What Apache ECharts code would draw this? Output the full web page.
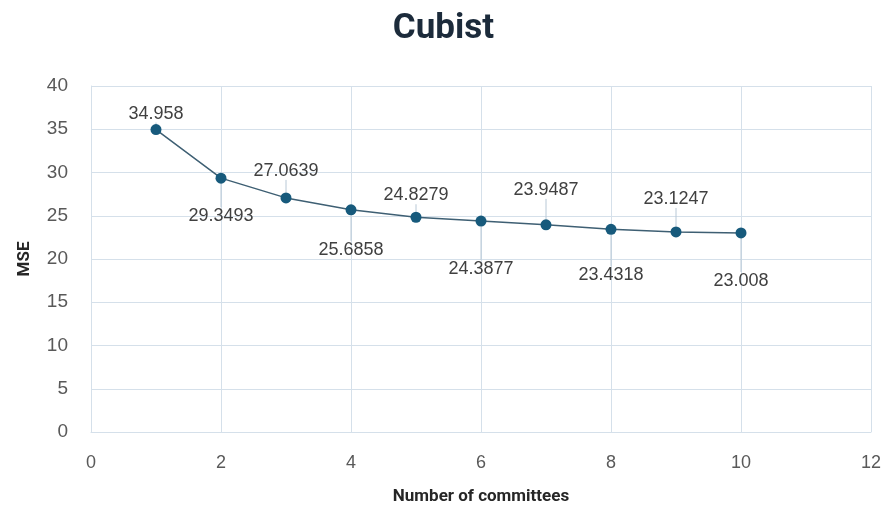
<!DOCTYPE html>
<html>
<head>
<meta charset="utf-8">
<script src="https://cdn.jsdelivr.net/npm/echarts@6/dist/echarts.min.js"></script>
<style>
  html, body { margin: 0; padding: 0; background: #fff; }
  #chart { width: 887px; height: 506px; }
</style>
</head>
<body>
<div id="chart"></div>
<script>
// Committee counts and the matching mean squared error
const committees = [1, 2, 3, 4, 5, 6, 7, 8, 9, 10];
const mse = [34.958, 29.3493, 27.0639, 25.6858, 24.8279, 24.3877, 23.9487, 23.4318, 23.1247, 23.008];
// Vertical shift of each value label (negative = above the point)
const labelShift = [-16, 38, -27, 40, -22, 48, -35, 46, -33, 48];

const chart = echarts.init(document.getElementById('chart'));
const sans = '"Liberation Sans", Arial, sans-serif';
const gridColor = '#d5e0ea';

chart.setOption({
  animation: false,
  title: {
    text: 'Cubist',
    left: 'center',
    top: 7,
    textStyle: { fontFamily: 'Roboto, "Liberation Sans", sans-serif', fontWeight: 'bold', fontSize: 35, color: '#1c2b3b' }
  },
  grid: { left: 91, right: 16, top: 86, bottom: 74, outerBoundsMode: 'none', containLabel: false },
  xAxis: {
    type: 'value', min: 0, max: 12, interval: 2,
    name: 'Number of committees', nameLocation: 'middle', nameGap: 56,
    nameTextStyle: { fontFamily: 'Roboto, ' + sans, fontWeight: 'bold', fontSize: 17, color: '#262626' },
    axisLine: { show: true, lineStyle: { color: gridColor } },
    axisTick: { show: false },
    axisLabel: { fontFamily: sans, fontSize: 18, color: '#595959', margin: 22 },
    splitLine: { show: true, lineStyle: { color: gridColor, width: 1 } }
  },
  yAxis: {
    type: 'value', min: 0, max: 40, interval: 5,
    name: 'MSE', nameLocation: 'middle', nameGap: 58, nameRotate: 90,
    nameTextStyle: { fontFamily: 'Roboto, ' + sans, fontWeight: 'bold', fontSize: 17, color: '#262626' },
    axisLine: { show: true, lineStyle: { color: gridColor } },
    axisTick: { show: false },
    axisLabel: { fontFamily: sans, fontSize: 19, color: '#595959', margin: 23 },
    splitLine: { show: true, lineStyle: { color: gridColor, width: 1 } }
  },
  series: [{
    type: 'line',
    data: committees.map((c, i) => [c, mse[i]]),
    symbol: 'circle',
    symbolSize: 11,
    itemStyle: { color: '#175a7c' },
    lineStyle: { color: '#3e5f73', width: 1.5 },
    label: {
      show: true,
      position: 'inside',
      fontFamily: sans,
      fontSize: 18,
      color: '#404040',
      formatter: p => String(mse[p.dataIndex])
    },
    labelLayout: p => ({ dy: labelShift[p.dataIndex] }),
    labelLine: { show: true, length2: 0, lineStyle: { color: '#b8c8d6', width: 1 } }
  }]
});
</script>
</body>
</html>
